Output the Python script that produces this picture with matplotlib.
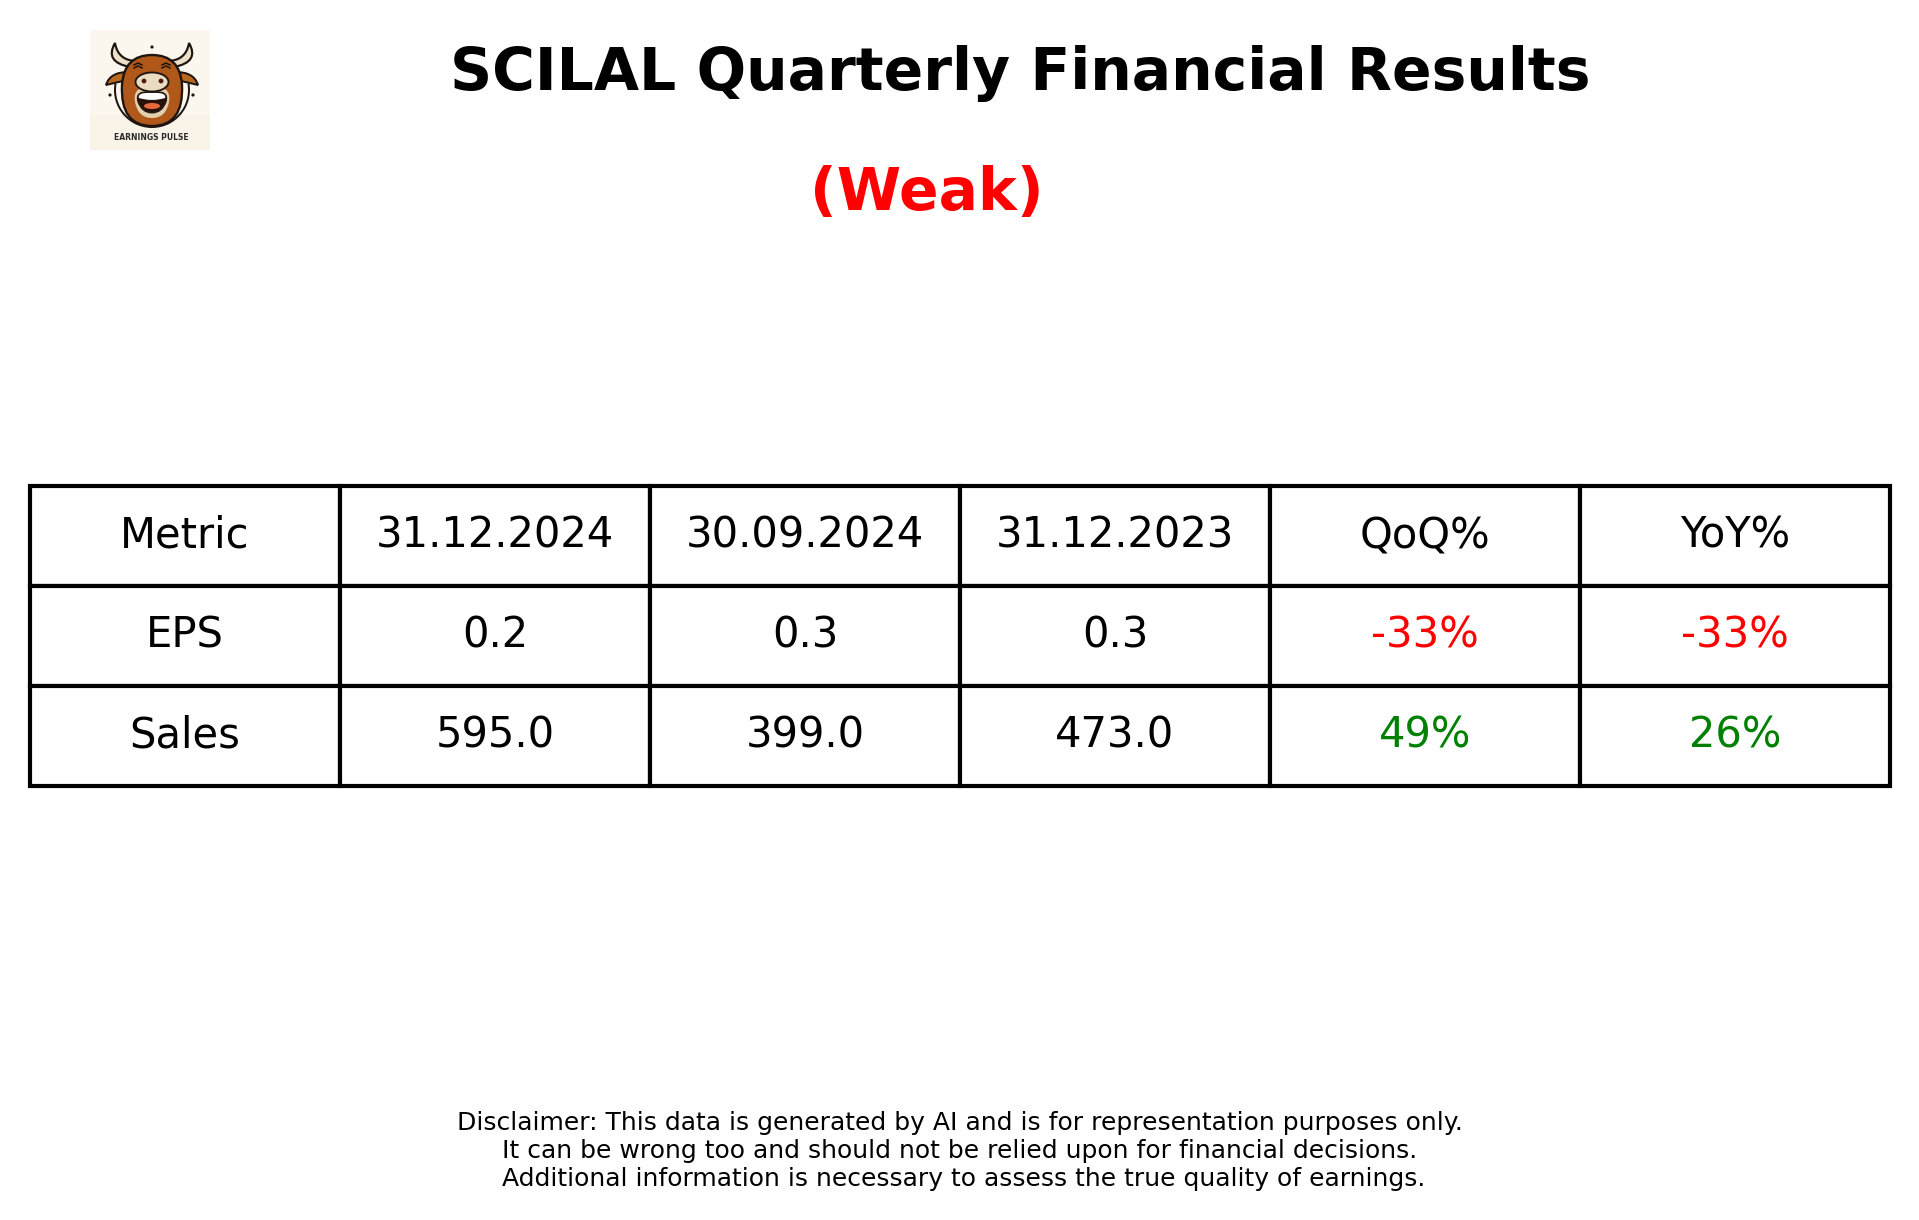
import matplotlib
matplotlib.use('Agg')
import matplotlib.pyplot as plt
from matplotlib.patches import Circle, Ellipse, Rectangle, PathPatch, Arc
from matplotlib.path import Path

W, H = 1919, 1220
DPI = 120

# table contents
columns = ['Metric', '31.12.2024', '30.09.2024', '31.12.2023', 'QoQ%', 'YoY%']
metrics = ['EPS', 'Sales']
eps_values = ['0.2', '0.3', '0.3', '-33%', '-33%']
sales_values = ['595.0', '399.0', '473.0', '49%', '26%']
rating = '(Weak)'
ticker = 'SCILAL'
disclaimer = ('Disclaimer: This data is generated by AI and is for representation purposes only.\n'
              'It can be wrong too and should not be relied upon for financial decisions.\n'
              ' Additional information is necessary to assess the true quality of earnings.')

fig = plt.figure(figsize=(W / DPI, H / DPI), dpi=DPI, facecolor='white')

# title + rating + disclaimer, placed in figure fractions
fig.text(1020 / W, 1 - 90 / H, f'{ticker} Quarterly Financial Results', fontsize=35,
         fontweight='bold', ha='center', va='baseline')
fig.text(927 / W, 1 - 210 / H, rating, fontsize=35, fontweight='bold', color='red',
         ha='center', va='baseline')
fig.text(960 / W, 1 - 1151 / H, disclaimer, fontsize=15, ha='center', va='center',
         linespacing=1.2)

# table
ax = fig.add_axes([30 / W, 1 - 786 / H, 1860 / W, 300 / H])
ax.axis('off')
rows = [columns, [metrics[0]] + eps_values, [metrics[1]] + sales_values]
tbl = ax.table(cellText=rows, cellLoc='center', bbox=[0, 0, 1, 1])
tbl.auto_set_font_size(False)
for (r, c), cell in tbl.get_celld().items():
    cell.set_linewidth(2.5)
    cell.set_edgecolor('black')
    cell.set_fontsize(25)
    txt = cell.get_text()
    if r > 0 and c >= 4:
        txt.set_color('red' if txt.get_text().startswith('-') else 'green')

# logo, rough redraw of the bull badge
logo = fig.add_axes([90 / W, 1 - 150 / H, 120 / W, 120 / H])
logo.set_xlim(0, 120)
logo.set_ylim(120, 0)
logo.axis('off')
logo.add_patch(Rectangle((0, 0), 120, 120, fc='#fbf6ee', ec='none'))
logo.add_patch(Rectangle((0, 85), 120, 35, fc='#f9f3e8', ec='none'))
outline = '#1e1410'
brown = '#b0571a'


def blob(pts, fc, ec=outline, lw=1.0):
    # closed shape from quadratic curve segments
    codes = [Path.MOVETO] + [Path.CURVE3] * (len(pts) - 1) + [Path.CLOSEPOLY]
    logo.add_patch(PathPatch(Path(pts + [pts[0]], codes), fc=fc, ec=ec, lw=lw))


# outer ring
logo.add_patch(Arc((62, 60), 74, 74, theta1=-10, theta2=190, color=outline, lw=1.2))
# horns
blob([(25, 13), (14, 32), (40, 37), (44, 34), (47, 31), (28, 31), (25, 13)], '#ece0c8', lw=1.3)
blob([(99, 13), (110, 32), (84, 37), (80, 34), (77, 31), (96, 31), (99, 13)], '#ece0c8', lw=1.3)
# ears
blob([(38, 42), (20, 42), (16, 55), (28, 52), (38, 50), (38, 46), (38, 42)], '#b8691f', lw=1.2)
blob([(86, 42), (104, 42), (108, 55), (96, 52), (86, 50), (86, 46), (86, 42)], '#b8691f', lw=1.2)
# head
blob([(62, 25), (90, 25), (92, 55), (94, 96), (62, 96), (30, 96), (32, 55), (34, 25), (62, 25)], brown, lw=1.4)
# eyes, laughing arcs
for x in (48, 76):
    logo.plot([x - 4, x, x + 4], [35, 33, 35], color=outline, lw=0.9)
    logo.plot([x - 4, x, x + 4], [38, 36, 38], color=outline, lw=0.9)
# chin and mouth
blob([(62, 56), (82, 56), (79, 72), (76, 88), (62, 88), (48, 88), (45, 72), (42, 56), (62, 56)], '#e3cfae', ec='none')
blob([(62, 62), (80, 60), (76, 72), (72, 83), (62, 83), (52, 83), (48, 72), (44, 60), (62, 62)], '#2a120c', lw=0.6)
blob([(62, 63), (77, 62), (75, 68), (62, 72), (49, 68), (47, 62), (62, 63)], 'white', ec='none')
logo.add_patch(Ellipse((62, 76), 16, 6, fc='#e56a3a', ec='none'))
# muzzle
logo.add_patch(Ellipse((62, 52), 33, 19, fc='#eadcc0', ec=outline, lw=1.1))
logo.add_patch(Circle((54, 51), 2.4, fc='#4a1c14', ec='none'))
logo.add_patch(Circle((71, 51), 2.4, fc='#4a1c14', ec='none'))
# small sparkles
for x, y in ((62, 17), (20, 65), (103, 65)):
    logo.add_patch(Circle((x, y), 1.6, fc=outline, ec='none'))
logo.text(61, 107, 'EARNINGS PULSE', fontsize=4.6, fontweight='bold', color='#2a2a2a',
          ha='center', va='center')

plt.savefig('out.png', dpi=DPI)
